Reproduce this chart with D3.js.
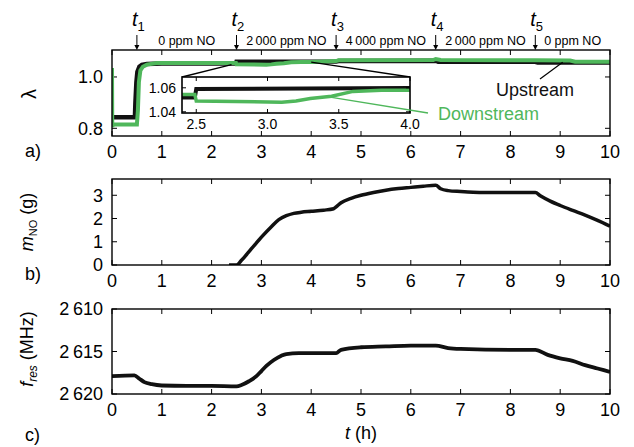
<!DOCTYPE html>
<html><head><meta charset="utf-8">
<script src="https://cdn.jsdelivr.net/npm/d3@7"></script>
<style>
html,body{margin:0;padding:0;background:#fff;}
svg{display:block;font-family:"Liberation Sans",Arial,Helvetica,sans-serif;}
</style></head>
<body><svg id="c" width="634" height="447"></svg>
<script>
// ---- data ----
const xTicks = [0,1,2,3,4,5,6,7,8,9,10];
const lamTicks = [0.8, 1.0];
const mTicks = [0,1,2,3];
const fTicks = [2610, 2615, 2620];
const insetXTicks = [2.5, 3.0, 3.5, 4.0];
const insetYTicks = [1.04, 1.06];

const eventTimes = [0.5, 2.5, 4.5, 6.5, 8.5];
const eventNames = ["1","2","3","4","5"];
const phaseLabels = ["0 ppm NO","2\u2009000 ppm NO","4\u2009000 ppm NO","2\u2009000 ppm NO","0 ppm NO"];

const upT = [0,0.46,0.47,0.49,0.51,0.55,0.6,0.7,1.0,2.49,2.5,4.5,4.55,6.5,6.55,8.5,8.55,10];
const upV = [0.843,0.843,0.9,0.98,1.02,1.04,1.047,1.05,1.052,1.052,1.059,1.06,1.062,1.063,1.059,1.059,1.056,1.056];

const dnT = [0,0.005,0.02,0.5,0.52,0.54,0.57,0.62,0.7,0.9,2.49,2.5,3.1,3.2,3.3,3.45,3.6,3.8,4.0,4.5,4.55,6.45,6.5,6.6,8.5,9.2,9.3,10];
const dnV = [1.035,0.805,0.815,0.815,0.87,0.98,1.025,1.04,1.048,1.054,1.0545,1.049,1.048,1.049,1.051,1.053,1.057,1.058,1.058,1.062,1.065,1.066,1.07,1.066,1.065,1.064,1.059,1.059];

const mT = [2.35,2.5,2.6,2.8,3.0,3.2,3.35,3.5,3.65,3.8,4.0,4.25,4.45,4.5,4.6,4.8,5.0,5.25,5.5,5.75,6.0,6.25,6.5,6.6,6.75,7.0,7.25,7.5,8.0,8.5,8.6,8.8,9.0,9.25,9.5,9.75,10];
const mV = [0,0,0.2,0.7,1.2,1.65,1.95,2.12,2.22,2.27,2.31,2.36,2.42,2.5,2.68,2.87,3.0,3.12,3.22,3.29,3.34,3.39,3.43,3.28,3.2,3.16,3.13,3.12,3.12,3.12,2.98,2.75,2.56,2.35,2.15,1.92,1.67];

const fT = [0,0.45,0.55,0.65,0.8,1.0,1.5,2.0,2.5,2.6,2.75,2.9,3.0,3.1,3.25,3.4,3.5,3.75,4.0,4.5,4.6,5.0,5.5,6.0,6.5,6.75,7.0,8.0,8.5,8.75,9.0,9.25,9.5,9.75,10];
const fV = [2617.9,2617.8,2618.2,2618.6,2618.85,2619.0,2619.05,2619.05,2619.1,2618.95,2618.5,2617.9,2617.3,2616.7,2616.0,2615.5,2615.3,2615.2,2615.2,2615.2,2614.8,2614.5,2614.4,2614.3,2614.3,2614.6,2614.7,2614.8,2614.8,2615.4,2615.8,2616.1,2616.6,2617.0,2617.4];

// ---- layout ----
const GREEN = "#4fb75b";
const svg = d3.select("#c");
const L = 112, R = 610;
const x = d3.scaleLinear([0,10],[L,R]);
const ya = d3.scaleLinear([0.77,1.105],[136,50]);
const yb = d3.scaleLinear([0,3.7],[265,179]);
const yc = d3.scaleLinear([2610,2620],[309,394]);
const xi = d3.scaleLinear([2.4,4.0],[182,410]);
const yi = d3.scaleLinear([1.039,1.069],[113,77]);

const FS = 18;
const fmtThin = d => { const s = String(d); return s.length > 3 ? s.slice(0, s.length-3) + "\u2009" + s.slice(-3) : s; };

function clip(id, x0, y0, w, h){
  svg.append("clipPath").attr("id", id).append("rect").attr("x",x0).attr("y",y0).attr("width",w).attr("height",h);
}

function panel(y, ticksY, fmtY, id){
  const b = Math.max(...y.range()), t = Math.min(...y.range());
  const g = svg.append("g");
  clip(id, L, t, R-L, b-t);
  const tl = 5;
  xTicks.forEach(v=>{
    g.append("line").attr("x1",x(v)).attr("x2",x(v)).attr("y1",b).attr("y2",b-tl).attr("stroke","#000").attr("stroke-width",1);
    g.append("line").attr("x1",x(v)).attr("x2",x(v)).attr("y1",t).attr("y2",t+tl).attr("stroke","#000").attr("stroke-width",1);
    g.append("text").attr("x",x(v)).attr("y",b+22).attr("text-anchor","middle").attr("font-size",FS).text(v);
  });
  ticksY.forEach(v=>{
    g.append("line").attr("x1",L).attr("x2",L+tl).attr("y1",y(v)).attr("y2",y(v)).attr("stroke","#000").attr("stroke-width",1);
    g.append("line").attr("x1",R).attr("x2",R-tl).attr("y1",y(v)).attr("y2",y(v)).attr("stroke","#000").attr("stroke-width",1);
    g.append("text").attr("x",L-9).attr("y",y(v)).attr("dy","0.36em").attr("text-anchor","end").attr("font-size",FS).text(fmtY(v));
  });
  return g;
}

function frame(x0,y0,x1,y1,w){
  svg.append("rect").attr("x",x0).attr("y",y0).attr("width",x1-x0).attr("height",y1-y0)
    .attr("fill","none").attr("stroke","#000").attr("stroke-width",w||1.4);
}

// ---- panel a ----
panel(ya, lamTicks, d=>d.toFixed(1), "ca");
const lineA = d3.line().x(d=>x(d[0])).y(d=>ya(d[1]));
svg.append("path").attr("d", lineA(d3.zip(upT,upV))).attr("clip-path","url(#ca)")
  .attr("fill","none").attr("stroke","#111").attr("stroke-width",4.5);
svg.append("path").attr("d", lineA(d3.zip(dnT,dnV))).attr("clip-path","url(#ca)")
  .attr("fill","none").attr("stroke",GREEN).attr("stroke-width",4);
frame(L,50,R,136);

// zoom connectors
svg.append("line").attr("x1",xi(2.4)).attr("y1",yi.range()[1]).attr("x2",x(2.4)).attr("y2",ya(1.048)).attr("stroke","#000").attr("stroke-width",1.3);
svg.append("line").attr("x1",xi(4.0)).attr("y1",yi.range()[1]).attr("x2",x(4.0)).attr("y2",ya(1.058)).attr("stroke","#000").attr("stroke-width",1.3);

// inset
const [ib, it] = yi.range();
svg.append("rect").attr("x",xi(2.4)).attr("y",it).attr("width",xi(4.0)-xi(2.4)).attr("height",ib-it).attr("fill","#fff");
clip("ci", xi(2.4), it, xi(4.0)-xi(2.4), ib-it);
const lineI = d3.line().x(d=>xi(d[0])).y(d=>yi(d[1]));
svg.append("path").attr("d", lineI(d3.zip(upT,upV))).attr("clip-path","url(#ci)")
  .attr("fill","none").attr("stroke","#111").attr("stroke-width",4);
svg.append("path").attr("d", lineI(d3.zip(dnT,dnV))).attr("clip-path","url(#ci)")
  .attr("fill","none").attr("stroke",GREEN).attr("stroke-width",3.5);
insetXTicks.forEach(v=>{
  svg.append("line").attr("x1",xi(v)).attr("x2",xi(v)).attr("y1",ib).attr("y2",ib-4).attr("stroke","#000");
  svg.append("line").attr("x1",xi(v)).attr("x2",xi(v)).attr("y1",it).attr("y2",it+4).attr("stroke","#000");
  svg.append("text").attr("x",xi(v)).attr("y",ib+16).attr("text-anchor","middle").attr("font-size",14).text(v.toFixed(1));
});
insetYTicks.forEach(v=>{
  svg.append("line").attr("x1",xi(2.4)).attr("x2",xi(2.4)+4).attr("y1",yi(v)).attr("y2",yi(v)).attr("stroke","#000");
  svg.append("line").attr("x1",xi(4.0)).attr("x2",xi(4.0)-4).attr("y1",yi(v)).attr("y2",yi(v)).attr("stroke","#000");
  svg.append("text").attr("x",xi(2.4)-6).attr("y",yi(v)).attr("dy","0.36em").attr("text-anchor","end").attr("font-size",14).text(v.toFixed(2));
});
frame(xi(2.4), it, xi(4.0), ib, 1.6);

// legend labels
svg.append("line").attr("x1",540).attr("y1",79).attr("x2",x(9.05)).attr("y2",ya(1.057)).attr("stroke","#000").attr("stroke-width",1.2);
svg.append("text").attr("x",535).attr("y",96).attr("text-anchor","middle").attr("font-size",18).attr("fill","#111").text("Upstream");
svg.append("line").attr("x1",xi(3.45)).attr("y1",yi(1.052)).attr("x2",428).attr("y2",113).attr("stroke",GREEN).attr("stroke-width",1.3);
svg.append("text").attr("x",438).attr("y",120).attr("font-size",18).attr("fill",GREEN).text("Downstream");

// event markers
const arrowG = svg.append("g");
eventTimes.forEach((t,i)=>{
  const xx = x(t);
  arrowG.append("line").attr("x1",xx).attr("x2",xx).attr("y1",35).attr("y2",46).attr("stroke","#000").attr("stroke-width",1);
  arrowG.append("path").attr("d",`M${xx-2.5},${45} L${xx+2.5},${45} L${xx},${50} Z`).attr("fill","#000");
  const tx = arrowG.append("text").attr("x",xx-5).attr("y",26).attr("font-size",20);
  tx.append("tspan").attr("font-style","italic").text("t");
  tx.append("tspan").attr("font-size",13).attr("dy",5).text(eventNames[i]);
  const next = i < eventTimes.length-1 ? x(eventTimes[i+1]) : R;
  arrowG.append("text").attr("x",(xx+next)/2).attr("y",45).attr("text-anchor","middle").attr("font-size",12.5).text(phaseLabels[i]);
});

// ---- panel b ----
panel(yb, mTicks, d=>d, "cb");
const lineB = d3.line().x(d=>x(d[0])).y(d=>yb(d[1])).curve(d3.curveMonotoneX);
svg.append("path").attr("d", lineB(d3.zip(mT,mV))).attr("clip-path","url(#cb)")
  .attr("fill","none").attr("stroke","#111").attr("stroke-width",3.5);
frame(L,179,R,265);

// ---- panel c ----
panel(yc, fTicks, fmtThin, "cc");
const lineC = d3.line().x(d=>x(d[0])).y(d=>yc(d[1])).curve(d3.curveMonotoneX);
svg.append("path").attr("d", lineC(d3.zip(fT,fV))).attr("clip-path","url(#cc)")
  .attr("fill","none").attr("stroke","#111").attr("stroke-width",3.8);
frame(L,309,R,394);

// ---- axis labels ----
svg.append("text").attr("transform","translate(36,94) rotate(-90)").attr("text-anchor","middle").attr("font-size",20).text("\u03bb");
const mlab = svg.append("text").attr("transform","translate(33,222) rotate(-90)").attr("text-anchor","middle").attr("font-size",18);
mlab.append("tspan").attr("font-style","italic").text("m");
mlab.append("tspan").attr("font-size",11).attr("dy",4).text("NO");
mlab.append("tspan").attr("dy",-4).text(" (g)");
const flab = svg.append("text").attr("transform","translate(33,349) rotate(-90)").attr("text-anchor","middle").attr("font-size",18);
flab.append("tspan").attr("font-style","italic").text("f");
flab.append("tspan").attr("font-size",12).attr("font-style","italic").attr("dy",4).text("res");
flab.append("tspan").attr("dy",-4).text(" (MHz)");
const tlab = svg.append("text").attr("x",361).attr("y",439).attr("text-anchor","middle").attr("font-size",18);
tlab.append("tspan").attr("font-style","italic").text("t");
tlab.append("tspan").text(" (h)");
svg.append("text").attr("x",25).attr("y",157).attr("font-size",18).text("a)");
svg.append("text").attr("x",25).attr("y",280).attr("font-size",18).text("b)");
svg.append("text").attr("x",25).attr("y",441).attr("font-size",18).text("c)");
</script></body></html>
